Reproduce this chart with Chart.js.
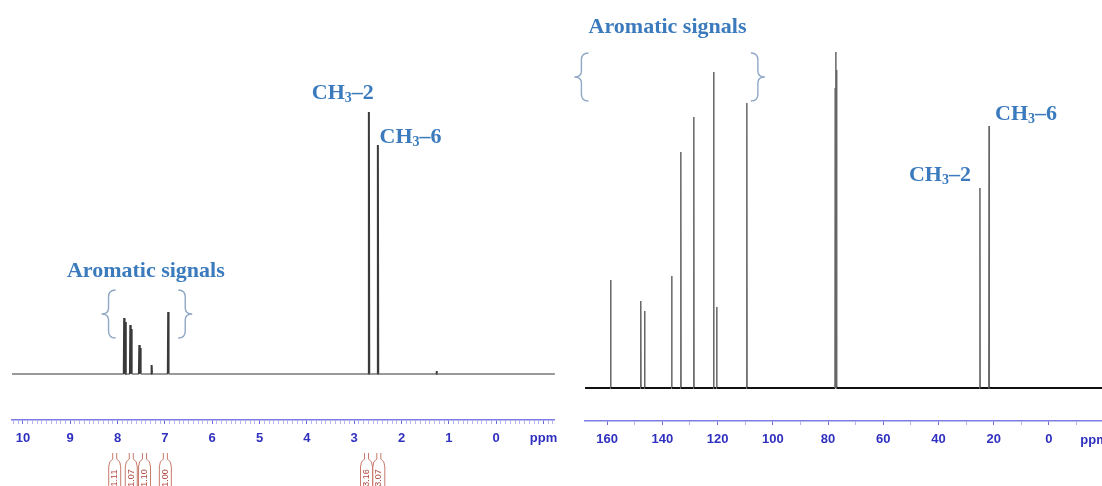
<!DOCTYPE html>
<html>
<head>
<meta charset="utf-8">
<script src="https://cdn.jsdelivr.net/npm/chart.js@4/dist/chart.umd.min.js"></script>
<style>
body { margin:0; background:#fff; width:1102px; height:486px; overflow:hidden; position:relative; }
#hChart { position:absolute; left:0; top:0; }
#cChart { position:absolute; left:560px; top:0; }
</style>
</head>
<body>
<canvas id="hChart" width="560" height="486"></canvas>
<canvas id="cChart" width="542" height="486"></canvas>
<script>
// 1H NMR peaks (ppm, height)
var hPeakPpm    = [7.86, 7.83, 7.73, 7.71, 7.54, 7.52, 7.28, 6.93, 2.69, 2.50, 1.26];
var hPeakHeight = [56,   52,   49,   45,   29,   26,   9,    62,   262,  229,  3];
var hTickLabels = ["10","9","8","7","6","5","4","3","2","1","0"];
var hIntegralPpm  = [8.06, 7.71, 7.43, 6.99, 2.74, 2.48];
var hIntegralText = ["1.11","1.07","1.10","1.00","3.16","3.07"];

// 13C NMR peaks
var cPeakPpm    = [158.7, 147.8, 146.4, 136.6, 133.3, 128.6, 121.4, 120.3, 109.4, 77.4, 77.2, 76.9, 25.0, 21.7];
var cPeakHeight = [108,   87,    77,    112,   236,   271,   316,   81,    285,   300,  336,  318,  200,  262];
var cTickLabels = ["160","140","120","100","80","60","40","20","0"];

var blueText = '#3b7bbd';

// spectrum line: flat baseline with a narrow spike for each peak
function buildSpectrum(ppm, height, from, to, halfWidth) {
    var pts = [{x: from, y: 0}];
    for (var i = 0; i < ppm.length; i++) {
        pts.push({x: ppm[i] + halfWidth, y: 0});
        pts.push({x: ppm[i], y: height[i]});
        pts.push({x: ppm[i] - halfWidth, y: 0});
    }
    pts.push({x: to, y: 0});
    return pts;
}

function isWhole(v, step) {
    var r = v / step;
    return Math.abs(r - Math.round(r)) < 1e-6;
}

function drawBrace(ctx, x, yc, h, open) {
    var w = open ? 7 : -7;
    var top = yc - h / 2, bot = yc + h / 2;
    ctx.beginPath();
    ctx.moveTo(x + w, top);
    ctx.quadraticCurveTo(x, top, x, top + 7);
    ctx.lineTo(x, yc - 6);
    ctx.quadraticCurveTo(x, yc, x - w, yc);
    ctx.quadraticCurveTo(x, yc, x, yc + 6);
    ctx.lineTo(x, bot - 7);
    ctx.quadraticCurveTo(x, bot, x + w, bot);
    ctx.strokeStyle = '#8fa8c6';
    ctx.lineWidth = 1.4;
    ctx.stroke();
}

function drawCH3(ctx, suffix, cx, cy) {
    var big = 'bold 22px "Liberation Serif", serif';
    var small = 'bold 14px "Liberation Serif", serif';
    ctx.font = big;
    var w1 = ctx.measureText('CH').width;
    var w3 = ctx.measureText('\u2013' + suffix).width;
    ctx.font = small;
    var w2 = ctx.measureText('3').width;
    var x = cx - (w1 + w2 + w3) / 2;
    ctx.fillStyle = blueText;
    ctx.textAlign = 'left';
    ctx.textBaseline = 'middle';
    ctx.font = big;
    ctx.fillText('CH', x, cy);
    ctx.font = small;
    ctx.fillText('3', x + w1, cy + 5);
    ctx.font = big;
    ctx.fillText('\u2013' + suffix, x + w1 + w2, cy);
}

function drawNotes(chart, notes) {
    var ctx = chart.ctx, xs = chart.scales.x, ys = chart.scales.y;
    ctx.save();
    notes.forEach(function(n) {
        var px = xs.getPixelForValue(n.ppm), py = ys.getPixelForValue(n.y);
        if (n.kind === 'title') {
            ctx.font = 'bold 22px "Liberation Serif", serif';
            ctx.fillStyle = blueText;
            ctx.textAlign = 'left';
            ctx.textBaseline = 'middle';
            ctx.fillText(n.text, px, py);
        } else if (n.kind === 'ch3') {
            drawCH3(ctx, n.text, px, py);
        } else if (n.kind === 'brace') {
            drawBrace(ctx, px, py, 48, n.open);
        } else if (n.kind === 'ppm') {
            ctx.font = 'bold 13px Arial, "Liberation Sans", sans-serif';
            ctx.fillStyle = '#3030c0';
            ctx.textAlign = 'center';
            ctx.textBaseline = 'middle';
            ctx.fillText('ppm', px, 440);
        }
    });
    ctx.restore();
}

function drawIntegrals(chart) {
    var ctx = chart.ctx, xs = chart.scales.x;
    ctx.save();
    for (var i = 0; i < hIntegralPpm.length; i++) {
        var x = xs.getPixelForValue(hIntegralPpm[i]);
        ctx.beginPath();
        ctx.moveTo(x - 6, 492);
        ctx.lineTo(x - 6, 467);
        ctx.quadraticCurveTo(x - 6, 461, x - 2, 459);
        ctx.lineTo(x - 2, 453);
        ctx.moveTo(x + 2, 453);
        ctx.lineTo(x + 2, 459);
        ctx.quadraticCurveTo(x + 6, 461, x + 6, 467);
        ctx.lineTo(x + 6, 492);
        ctx.strokeStyle = '#c87a6c';
        ctx.lineWidth = 1;
        ctx.stroke();
        ctx.translate(x, 478);
        ctx.rotate(-Math.PI / 2);
        ctx.font = '9px Arial, "Liberation Sans", sans-serif';
        ctx.fillStyle = '#b04a40';
        ctx.textAlign = 'center';
        ctx.textBaseline = 'middle';
        ctx.fillText(hIntegralText[i], 0, 0);
        ctx.setTransform(1, 0, 0, 1, 0, 0);
    }
    ctx.restore();
}

function axisOptions(min, max, step, majorStep, labels, height) {
    return {
        type: 'linear', reverse: true, min: min, max: max,
        afterFit: function(s) { s.height = height; },
        border: { color: '#7c7ce2', width: 1.5 },
        grid: {
            drawOnChartArea: false, tickLength: 4,
            tickColor: function(c) {
                var v = c.tick.value;
                if (!isWhole(v, step)) return 'rgba(0,0,0,0)';
                return isWhole(v, majorStep) ? '#6a6ad6' : 'rgba(130,130,230,0.6)';
            }
        },
        ticks: {
            stepSize: step, includeBounds: false, autoSkip: false, maxRotation: 0, padding: 7,
            color: '#3030c0',
            font: { family: 'Arial, "Liberation Sans", sans-serif', weight: 'bold', size: 13 },
            callback: function(v) {
                if (!isWhole(v, majorStep)) return '';
                var s = String(Math.round(v));
                if (labels.indexOf(s) >= 0) return s;
                return (majorStep === 1 && Math.round(v) === -1) ? 'ppm' : '';
            }
        }
    };
}

var hNotes = [
    {kind: 'title', text: 'Aromatic signals', ppm: 9.07, y: 103},
    {kind: 'brace', ppm: 8.19, y: 60, open: true},
    {kind: 'brace', ppm: 6.57, y: 60, open: false},
    {kind: 'ch3', text: '2', ppm: 3.24, y: 281},
    {kind: 'ch3', text: '6', ppm: 1.81, y: 237}
];
var cNotes = [
    {kind: 'title', text: 'Aromatic signals', ppm: 166.7, y: 361},
    {kind: 'brace', ppm: 169.3, y: 311, open: true},
    {kind: 'brace', ppm: 105.4, y: 311, open: false},
    {kind: 'ch3', text: '6', ppm: 8.3, y: 274},
    {kind: 'ch3', text: '2', ppm: 39.5, y: 213},
    {kind: 'ppm', ppm: -16.3, y: 0}
];

window.onload = function() {
    var hCtx = document.getElementById('hChart').getContext('2d');
    new Chart(hCtx, {
        type: 'line',
        data: { datasets: [{
            data: buildSpectrum(hPeakPpm, hPeakHeight, 10.23, -1.24, 0.008),
            pointRadius: 0, tension: 0, fill: false,
            borderWidth: 1.5,
            segment: {
                borderColor: function(c) { return (c.p0.parsed.y === 0 && c.p1.parsed.y === 0) ? '#777' : '#3a3a3a'; },
                borderWidth: function(c) { return (c.p0.parsed.y === 0 && c.p1.parsed.y === 0) ? 1.5 : 2; }
            }
        }]},
        options: {
            responsive: false, animation: false,
            layout: { padding: { left: 12, right: 3, top: 0, bottom: 0 } },
            plugins: { legend: { display: false }, tooltip: { enabled: false } },
            scales: {
                x: axisOptions(-1.24, 10.23, 0.1, 1, hTickLabels, 66),
                y: { display: false, min: -46, max: 374 }
            }
        },
        plugins: [{ id: 'notes', afterDraw: function(chart) { drawNotes(chart, hNotes); drawIntegrals(chart); } }]
    });

    var cCtx = document.getElementById('cChart').getContext('2d');
    new Chart(cCtx, {
        type: 'line',
        data: { datasets: [{
            data: buildSpectrum(cPeakPpm, cPeakHeight, 168, -19.2, 0.08),
            pointRadius: 0, tension: 0, fill: false,
            borderWidth: 1.5,
            segment: {
                borderColor: function(c) { return (c.p0.parsed.y === 0 && c.p1.parsed.y === 0) ? '#111' : '#666'; },
                borderWidth: function(c) { return (c.p0.parsed.y === 0 && c.p1.parsed.y === 0) ? 2 : 1.5; }
            }
        }]},
        options: {
            responsive: false, animation: false,
            layout: { padding: { left: 25, right: 0, top: 0, bottom: 0 } },
            plugins: { legend: { display: false }, tooltip: { enabled: false } },
            scales: {
                x: axisOptions(-19.2, 168, 10, 20, cTickLabels, 65),
                y: { display: false, min: -33, max: 388 }
            }
        },
        plugins: [{ id: 'notes', afterDraw: function(chart) { drawNotes(chart, cNotes); } }]
    });
};
</script>
</body>
</html>
